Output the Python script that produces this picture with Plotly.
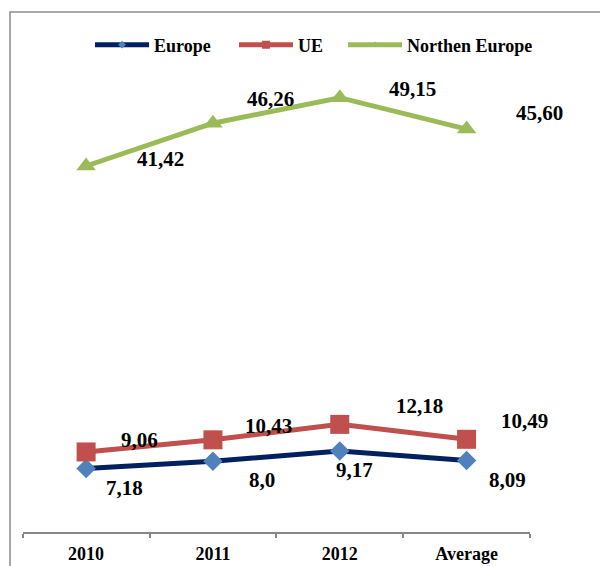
import plotly.graph_objects as go

categories = ["2010", "2011", "2012", "Average"]
europe = [7.18, 8.0, 9.17, 8.09]
ue = [9.06, 10.43, 12.18, 10.49]
northen = [41.42, 46.26, 49.15, 45.60]
europe_labels = ["7,18", "8,0", "9,17", "8,09"]
ue_labels = ["9,06", "10,43", "12,18", "10,49"]
northen_labels = ["41,42", "46,26", "49,15", "45,60"]

W, H = 600, 558
FONT = "Liberation Serif"

series = [
    ("Europe", europe, europe_labels, "#002060", "#4f81bd", "diamond", 15, 6,
     [(38, -19), (49, -19), (15, -19), (41, -19)], "legend", 82),
    ("UE", ue, ue_labels, "#c0504d", "#c0504d", "square", 19, 8,
     [(53, 12), (56, 14), (80, 18), (58, 18)], "legend2", 226),
    ("Northen Europe", northen, northen_labels, "#9bbb59", "#9bbb59", "triangle-up", 17, 7,
     [(74, 7), (58, 24), (73, 9), (73, 16)], "legend3", 335),
]

fig = go.Figure()

annotations = []
legends = {}
for name, vals, labs, lc, mc, sym, ms, lms, offs, lg, lx in series:
    fig.add_trace(go.Scatter(
        x=categories, y=vals, mode="lines+markers",
        line=dict(color=lc, width=5), marker=dict(symbol=sym, size=ms, color=mc),
        showlegend=False, cliponaxis=False))
    # legend proxy
    fig.add_trace(go.Scatter(
        x=[None], y=[None], mode="lines+markers", name=name, legend=lg,
        line=dict(color=lc, width=5), marker=dict(symbol=sym, size=lms, color=mc)))
    legends[lg] = dict(
        orientation="h", x=lx / W, xanchor="left", y=1 - 37 / H, yanchor="middle",
        font=dict(family=FONT, size=18, color="black", weight="bold"),
        bgcolor="rgba(0,0,0,0)", itemwidth=54, borderwidth=0)
    for i, (v, t, (dx, dy)) in enumerate(zip(vals, labs, offs)):
        annotations.append(dict(
            x=i, y=v, xref="x", yref="y", text=t, showarrow=False,
            xshift=dx, yshift=dy,
            font=dict(family=FONT, size=21, color="black", weight="bold")))

fig.update_layout(
    width=W, height=H,
    margin=dict(l=0, r=0, t=0, b=0),
    paper_bgcolor="white", plot_bgcolor="rgba(0,0,0,0)",
    template="none",
    annotations=annotations,
    xaxis=dict(
        type="category", categoryorder="array", categoryarray=categories,
        range=[-0.5, 3.5], domain=[14.7 / W, 522 / W],
        showline=True, linecolor="#868686", linewidth=1.5,
        ticks="outside", tickson="boundaries", ticklen=4, tickcolor="#868686", tickwidth=1.5,
        ticklabelstandoff=5,
        showgrid=False, zeroline=False, automargin=False,
        tickfont=dict(family=FONT, size=18, color="black", weight="bold")),
    yaxis=dict(
        range=[0, 55], domain=[(H - 524) / H, (H - 38) / H],
        visible=False, automargin=False, showgrid=False, zeroline=False),
    showlegend=True,
    shapes=[dict(type="rect", xref="paper", yref="paper",
                 x0=2 / W, x1=1.05, y0=-0.05, y1=1 - 4 / H,
                 line=dict(color="#8c8c8c", width=1.5), fillcolor="rgba(0,0,0,0)",
                 layer="below")],
    **legends,
)

fig.write_html("out.html")
